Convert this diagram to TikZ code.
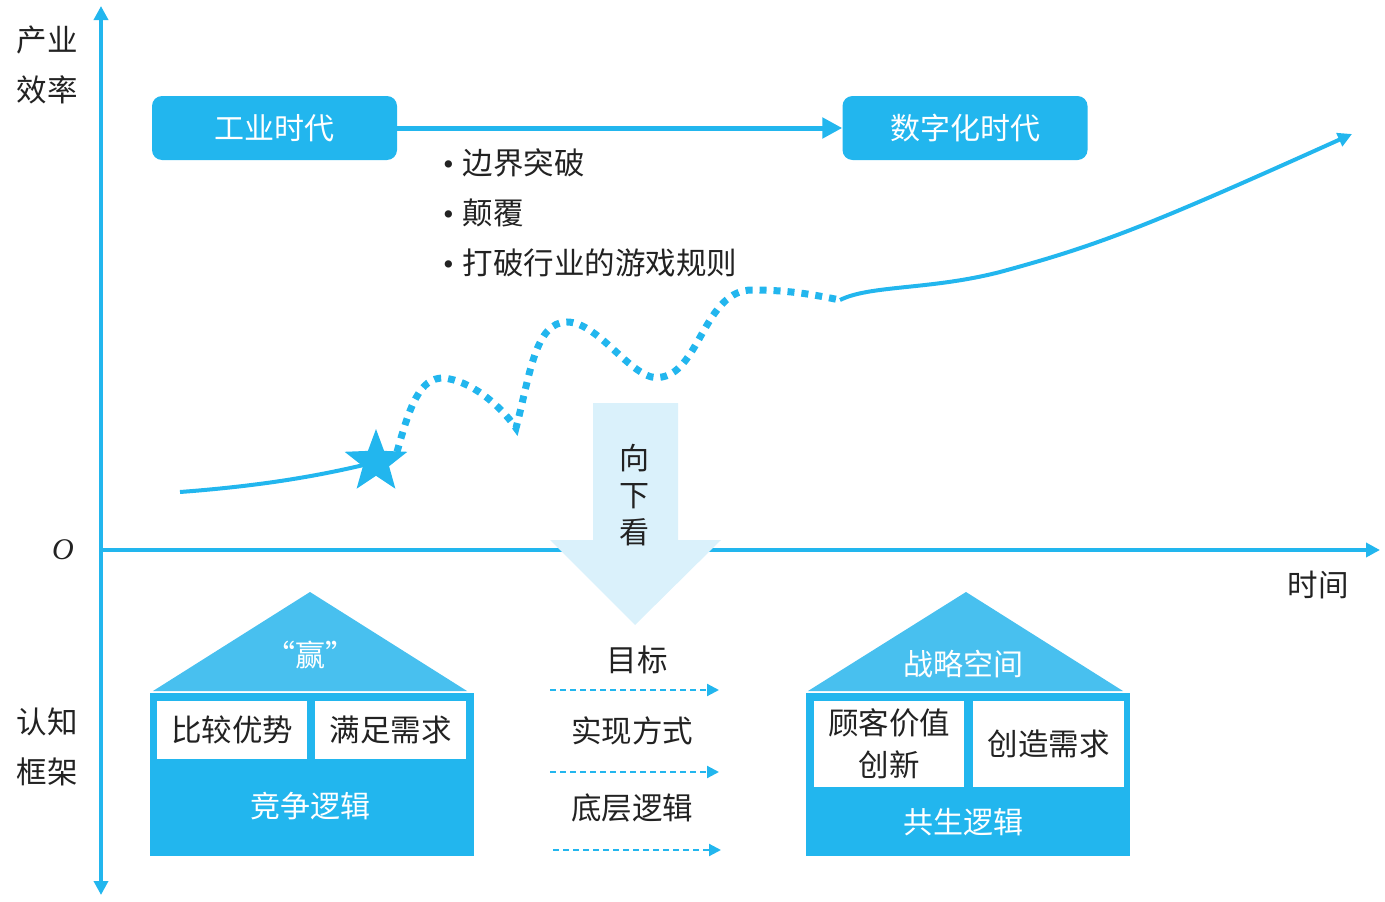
\documentclass[tikz,border=0pt]{standalone}
\usepackage{fontspec}
\setmainfont{Noto Sans CJK SC}
\newfontfamily\latinserif{Liberation Serif}
\usetikzlibrary{shapes.geometric,arrows.meta}
\definecolor{mainblue}{HTML}{22B6EE}
\definecolor{roofblue}{HTML}{48C0EF}
\definecolor{paleblue}{HTML}{DAF1FB}
\definecolor{txt}{HTML}{222222}
\tikzset{
  axisline/.style={line width=4pt, draw=mainblue},
  bigtip/.style={-{Triangle[length=14pt,width=14pt]}},
  erabox/.style={rounded corners=10pt, fill=mainblue, draw=none, minimum width=245pt, minimum height=64pt, text=white, font=\fontsize{30}{32}\selectfont, inner sep=0pt},
  lbl/.style={text=txt, font=\fontsize{30.5}{34}\selectfont, inner sep=0pt},
  wlbl/.style={text=white, font=\fontsize{30}{32}\selectfont, inner sep=0pt},
  wbox/.style={fill=white, draw=none, inner sep=0pt, text=txt, font=\fontsize{30.5}{36}\selectfont, align=center},
  body/.style={fill=mainblue, draw=none, inner sep=0pt},
  dotline/.style={line width=7pt, draw=mainblue, dash pattern=on 7pt off 7pt},
  curve/.style={line width=4pt, draw=mainblue},
  dasharrow/.style={line width=2.2pt, draw=mainblue, dash pattern=on 6pt off 4pt, -{Triangle[length=12pt,width=12pt]}},
}
\newcommand{\bul}{{\latinserif •}\hspace{9pt}}
\begin{document}
\begin{tikzpicture}[x=1pt,y=-1pt]
\useasboundingbox (0,0) rectangle (1385,902);
% axes
\coordinate (ytop) at (101,6);
\coordinate (ybot) at (101,895);
\coordinate (orig) at (101,550);
\coordinate (xend) at (1380,550);
\draw[axisline, {Triangle[length=14pt,width=14pt]}-{Triangle[length=14pt,width=14pt]}] (ybot) -- (ytop);
\draw[axisline, bigtip] (orig) -- (xend);
\node[lbl] (yl1) at (47,40) {产业};
\node[lbl] (yl2) at (47,90) {效率};
\node[lbl] (yl3) at (47,722) {认知};
\node[lbl] (yl4) at (47,772) {框架};
\node[text=txt, font=\fontsize{30}{30}\selectfont\latinserif\itshape, inner sep=0pt] (o) at (63,550) {O};
\node[lbl] (time) at (1318,585) {时间};
% era boxes
\node[erabox] (e1) at (274.5,128) {工业时代};
\node[erabox] (e2) at (965,128) {数字化时代};
\draw[line width=5pt, draw=mainblue, -{Triangle[length=20pt,width=20pt]}] (e1.east) -- (e2.west);
% bullets
\node[lbl, anchor=west] (b1) at (443,163) {\bul 边界突破};
\node[lbl, anchor=west] (b2) at (443,213) {\bul 颠覆};
\node[lbl, anchor=west] (b3) at (443,263) {\bul 打破行业的游戏规则};
% curves
\coordinate (c0) at (180,492);
\node[star, star points=5, star point ratio=2.4, fill=mainblue, minimum size=66pt, inner sep=0pt] (st) at (376,462) {};
\draw[curve] (c0) .. controls (260,486) and (320,476) .. (st.center);
\coordinate (d0) at (397,452);
\coordinate (p1) at (443,378);
\coordinate (t1) at (516,428);
\coordinate (p2) at (567,322);
\coordinate (t2) at (662,377);
\coordinate (p3) at (752,290);
\coordinate (d1) at (840,300);
\draw[dotline] (d0) .. controls (410,405) and (420,378) .. (p1)
  .. controls (470,380) and (500,405) .. (t1)
  .. controls (530,375) and (535,322) .. (p2)
  .. controls (600,322) and (635,385) .. (t2)
  .. controls (700,370) and (705,290) .. (p3)
  .. controls (790,290) and (815,295) .. (d1);
\coordinate (cend) at (1352,134);
\draw[curve, -{Triangle[length=14pt,width=14pt]}] (d1) .. controls (870,285) and (930,290) .. (1000,272)
  .. controls (1100,245) and (1150,225) .. (cend);
% down arrow
\fill[paleblue] (593,403) -- (678,403) -- (678,540) -- (721,540) -- (635,625) -- (550,540) -- (593,540) -- cycle;
\node[lbl, align=center, font=\fontsize{30}{37}\selectfont] (look) at (634,495) {向\\下\\看};
% left house
\fill[roofblue] (310,592) -- (467,691) -- (153,691) -- cycle;
\node[body, minimum width=324pt, minimum height=163pt] (h1) at (312,774.5) {};
\node[wbox, minimum width=150pt, minimum height=58pt] (h1a) at (232,730) {比较优势};
\node[wbox, minimum width=151pt, minimum height=58pt] (h1b) at (390.5,730) {满足需求};
\node[wlbl] (h1t) at (310,655) {“赢”};
\node[wlbl] (h1l) at (310,806) {竞争逻辑};
% right house
\fill[roofblue] (966,592) -- (1123,691) -- (808,691) -- cycle;
\node[body, minimum width=324pt, minimum height=163pt] (h2) at (968,774.5) {};
\node[wbox, minimum width=150pt, minimum height=86pt, font=\fontsize{30.5}{42}\selectfont] (h2a) at (889,744) {顾客价值\\创新};
\node[wbox, minimum width=151pt, minimum height=86pt] (h2b) at (1048.5,744) {创造需求};
\node[wlbl] (h2t) at (963,664) {战略空间};
\node[wlbl] (h2l) at (963,822) {共生逻辑};
% middle
\node[lbl] (m1) at (637,660) {目标};
\node[lbl] (m2) at (632,731) {实现方式};
\node[lbl] (m3) at (632,808) {底层逻辑};
\coordinate (a1s) at (550,690); \coordinate (a1e) at (719,690);
\coordinate (a2s) at (550,772); \coordinate (a2e) at (719,772);
\coordinate (a3s) at (553,850); \coordinate (a3e) at (721,850);
\draw[dasharrow] (a1s) -- (a1e);
\draw[dasharrow] (a2s) -- (a2e);
\draw[dasharrow] (a3s) -- (a3e);
\end{tikzpicture}
\end{document}
